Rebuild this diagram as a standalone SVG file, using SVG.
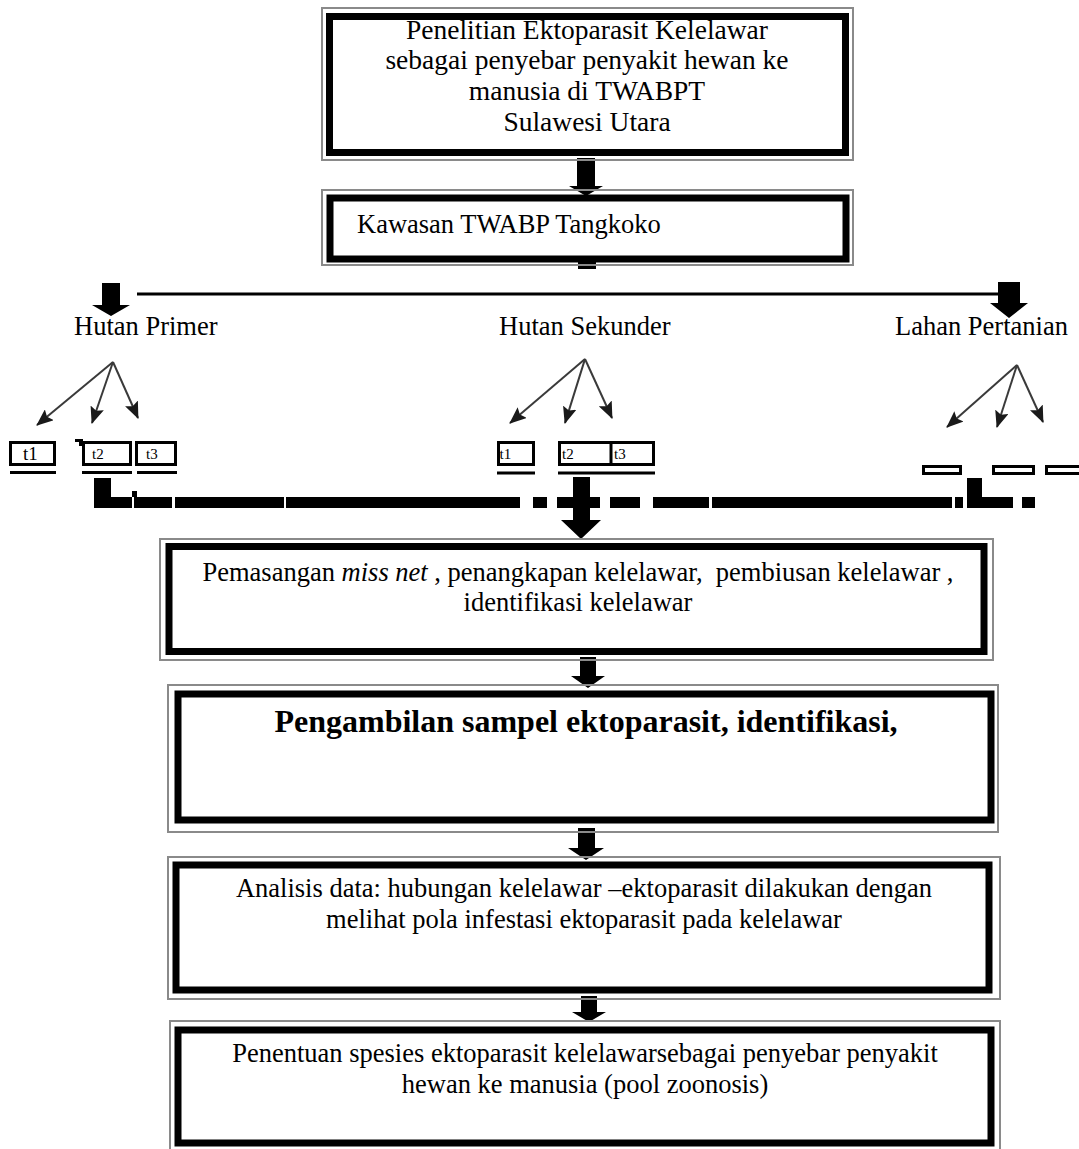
<svg xmlns="http://www.w3.org/2000/svg" width="1079" height="1149" viewBox="0 0 1079 1149">
<style>
  text { font-family: "Liberation Serif", "Times New Roman", serif; fill: #000; }
  .t29 { font-size: 27.5px; }
  .t26 { font-size: 26.5px; }
  .bold { font-size: 32px; font-weight: bold; }
  .small { font-size: 19px; }
  .tiny { font-size: 15px; }
  .outer { fill: none; stroke: #8a8a8a; stroke-width: 2; }
  .inner { fill: #fff; stroke: #000; stroke-width: 7; }
  .blk { fill: #000; }
  .tbox { fill: #fff; stroke: #000; stroke-width: 3; }
  .uline { stroke: #000; stroke-width: 3; }
  .fork { stroke: #3a3a3a; stroke-width: 2; fill: none; marker-end: url(#ah); }
</style>
<defs>
  <marker id="ah" markerUnits="userSpaceOnUse" markerWidth="18" markerHeight="14" refX="16" refY="7" orient="auto">
    <path d="M0,0 L17,7 L0,14 L3,7 z" fill="#1a1a1a"/>
  </marker>
</defs>
<rect width="1079" height="1149" fill="#fff"/>

<g id="connectors">
  <!-- title -> kawasan -->
  <polygon class="blk" points="577,158 595,158 595,186 603,186 586,196 569,186 577,186"/>
  <rect class="blk" x="578" y="262" width="18" height="7"/>
  <!-- split line -->
  <line x1="137" y1="294" x2="1020" y2="294" stroke="#000" stroke-width="3"/>
  <polygon class="blk" points="102,283 120,283 120,305 130,305 111,316 92,305 102,305"/>
  <polygon class="blk" points="998,282 1020,282 1020,303 1028,303 1009,318 990,303 998,303"/>
  <!-- forks -->
  <line class="fork" x1="113" y1="362" x2="37" y2="425"/>
  <line class="fork" x1="113" y1="362" x2="92" y2="423"/>
  <line class="fork" x1="113" y1="362" x2="138" y2="418"/>
  <line class="fork" x1="585" y1="359" x2="510" y2="423"/>
  <line class="fork" x1="585" y1="359" x2="565" y2="423"/>
  <line class="fork" x1="585" y1="359" x2="612" y2="418"/>
  <line class="fork" x1="1017" y1="365" x2="947" y2="427"/>
  <line class="fork" x1="1017" y1="365" x2="997" y2="427"/>
  <line class="fork" x1="1017" y1="365" x2="1043" y2="422"/>
  <!-- gathering bar -->
  <rect class="blk" x="94" y="478" width="17" height="30"/>
  <rect class="blk" x="132" y="491" width="5" height="6"/>
  <rect class="blk" x="967" y="478" width="15" height="20"/>
  <rect class="blk" x="94" y="497" width="38" height="11"/>
  <rect class="blk" x="134" y="497" width="38" height="11"/>
  <rect class="blk" x="175" y="497" width="109" height="11"/>
  <rect class="blk" x="286" y="497" width="234" height="11"/>
  <rect class="blk" x="533" y="497" width="14" height="11"/>
  <rect class="blk" x="557" y="497" width="43" height="11"/>
  <rect class="blk" x="610" y="497" width="30" height="11"/>
  <rect class="blk" x="653" y="497" width="56" height="11"/>
  <rect class="blk" x="712" y="497" width="240" height="11"/>
  <rect class="blk" x="955" y="497" width="8" height="11"/>
  <rect class="blk" x="967" y="497" width="46" height="11"/>
  <rect class="blk" x="1022" y="497" width="13" height="11"/>
  <!-- main arrow into box 3 -->
  <polygon class="blk" points="573,477 590,477 590,520 601,520 581,539 561,520 573,520"/>
  <!-- lower arrows -->
  <polygon class="blk" points="580,657 596,657 596,676 605,676 588,688 571,676 580,676"/>
  <polygon class="blk" points="578,828 595,828 595,848 604,848 586,860 568,848 578,848"/>
  <polygon class="blk" points="581,996 597,996 597,1012 606,1012 589,1022 572,1012 581,1012"/>
</g>

<g id="title">
  <rect class="outer" x="322" y="8" width="531" height="152"/>
  <rect class="inner" x="329.5" y="16.5" width="516" height="136"/>
  <text class="t29" x="587" y="39" text-anchor="middle">Penelitian Ektoparasit Kelelawar</text>
  <text class="t29" x="587" y="69" text-anchor="middle">sebagai penyebar penyakit hewan ke</text>
  <text class="t29" x="587" y="100" text-anchor="middle">manusia di TWABPT</text>
  <text class="t29" x="587" y="131" text-anchor="middle">Sulawesi Utara</text>
</g>

<g id="kawasan">
  <rect class="outer" x="322" y="190" width="531" height="75"/>
  <rect class="inner" x="330" y="198" width="516" height="61" stroke-width="6"/>
  <text class="t26" x="357" y="233">Kawasan TWABP Tangkoko</text>
</g>

<g id="hutan-primer">
  <text class="t26" x="74" y="335">Hutan Primer</text>
  <rect class="tbox" x="10.5" y="442.5" width="44" height="22"/>
  <text class="small" x="23" y="460">t1</text>
  <rect class="tbox" x="83.5" y="442.5" width="47" height="22"/>
  <text class="tiny" x="92" y="459">t2</text>
  <rect class="tbox" x="136.5" y="442.5" width="39" height="22"/>
  <text class="tiny" x="146" y="459">t3</text>
  <line class="uline" x1="10" y1="472.5" x2="56" y2="472.5"/>
  <line class="uline" x1="82" y1="472.5" x2="132" y2="472.5"/>
  <line class="uline" x1="137" y1="472.5" x2="177" y2="472.5"/>
  <rect class="blk" x="75" y="439" width="8" height="3"/>
  <rect class="blk" x="79" y="439" width="3" height="7"/>
</g>

<g id="hutan-sekunder">
  <text class="t26" x="499" y="335">Hutan Sekunder</text>
  <rect class="tbox" x="498.5" y="442.5" width="35" height="22"/>
  <text class="tiny" x="499.5" y="459">t1</text>
  <rect class="tbox" x="559.5" y="442.5" width="94" height="22"/>
  <line class="uline" x1="611" y1="442" x2="611" y2="465"/>
  <text class="tiny" x="562" y="459">t2</text>
  <text class="tiny" x="614" y="459">t3</text>
  <line class="uline" x1="497" y1="473" x2="535" y2="473"/>
  <line class="uline" x1="558" y1="473" x2="655" y2="473"/>
</g>

<g id="lahan-pertanian">
  <text class="t26" x="895" y="335">Lahan Pertanian</text>
  <rect class="tbox" x="923.5" y="466.5" width="37" height="7"/>
  <rect class="tbox" x="993.5" y="466.5" width="40" height="7"/>
  <rect class="tbox" x="1046.5" y="466.5" width="36" height="7"/>
</g>

<g id="pemasangan">
  <rect class="outer" x="160" y="539" width="833" height="121"/>
  <rect class="inner" x="169" y="546.5" width="815" height="105"/>
  <text class="t26" x="578" y="581" text-anchor="middle">Pemasangan <tspan font-style="italic">miss net</tspan> , penangkapan kelelawar, &#160;pembiusan kelelawar ,</text>
  <text class="t26" x="578" y="611" text-anchor="middle">identifikasi kelelawar</text>
</g>

<g id="pengambilan">
  <rect class="outer" x="168" y="685" width="830" height="147"/>
  <rect class="inner" x="178" y="694" width="813" height="126" stroke-width="8"/>
  <text class="bold" x="586" y="732" text-anchor="middle">Pengambilan sampel ektoparasit, identifikasi,</text>
</g>

<g id="analisis">
  <rect class="outer" x="168" y="857" width="832" height="142"/>
  <rect class="inner" x="176" y="865" width="813" height="125"/>
  <text class="t26" x="584" y="897" text-anchor="middle">Analisis data: hubungan kelelawar –ektoparasit dilakukan dengan</text>
  <text class="t26" x="584" y="928" text-anchor="middle">melihat pola infestasi ektoparasit pada kelelawar</text>
</g>

<g id="penentuan">
  <rect class="outer" x="170" y="1021" width="830" height="135"/>
  <rect class="inner" x="178" y="1030" width="813" height="113"/>
  <text class="t26" x="585" y="1062" text-anchor="middle">Penentuan spesies ektoparasit kelelawarsebagai penyebar penyakit</text>
  <text class="t26" x="585" y="1093" text-anchor="middle">hewan ke manusia (pool zoonosis)</text>
</g>
</svg>
